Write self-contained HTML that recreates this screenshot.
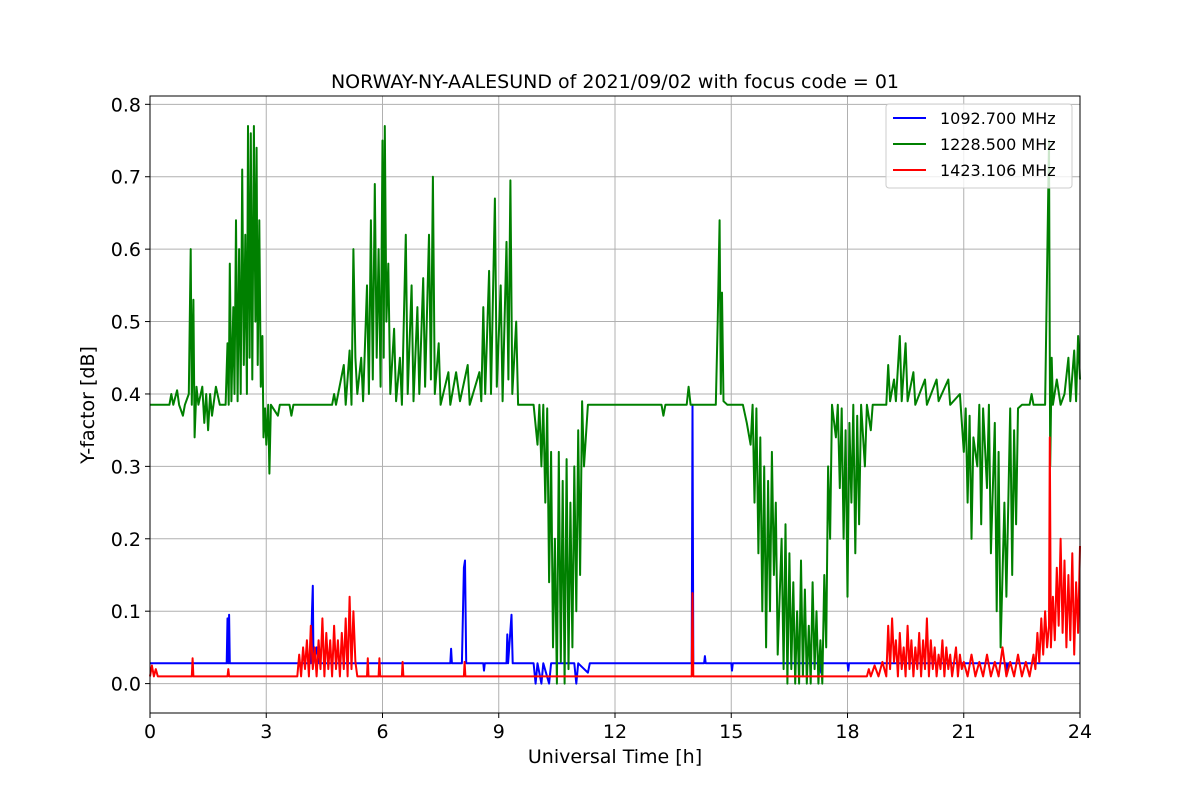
<!DOCTYPE html>
<html><head><meta charset="utf-8"><style>
body{margin:0;background:#fff;}
svg{display:block;font-family:"DejaVu Sans","Liberation Sans",sans-serif;}
</style></head><body>
<svg id="chart" width="1200" height="800" viewBox="0 0 1200 800"></svg>
<script>
const xTicks=[0,3,6,9,12,15,18,21,24];
const yTicks=[0.0,0.1,0.2,0.3,0.4,0.5,0.6,0.7,0.8];
const seriesNames=["1092.700 MHz","1228.500 MHz","1423.106 MHz"];
const blueT=[0,1.98,2.0,2.02,2.04,2.06,4.15,4.18,4.2,4.22,4.3,4.35,7.75,7.77,7.79,8.05,8.1,8.13,8.16,8.6,8.62,8.64,9.2,9.22,9.24,9.33,9.36,9.9,9.95,10.0,10.1,10.15,10.3,10.35,10.95,11.0,11.05,11.3,11.35,13.98,14.0,14.02,14.3,14.32,14.34,15.0,15.02,15.04,17.3,17.32,17.34,18.0,18.02,18.04,22.1,22.12,22.14,24];
const blueV=[0.028,0.028,0.09,0.028,0.095,0.028,0.028,0.1,0.135,0.028,0.05,0.028,0.028,0.048,0.028,0.028,0.16,0.17,0.028,0.028,0.018,0.028,0.028,0.068,0.028,0.095,0.028,0.028,0.0,0.028,0.0,0.028,0.0,0.028,0.028,0.0,0.028,0.015,0.028,0.028,0.385,0.028,0.028,0.038,0.028,0.028,0.018,0.028,0.028,0.015,0.028,0.028,0.018,0.028,0.028,0.018,0.028,0.028];
const greenT=[0,0.5,0.55,0.6,0.7,0.75,0.85,0.9,1.0,1.05,1.08,1.12,1.15,1.2,1.25,1.35,1.4,1.45,1.5,1.55,1.6,1.7,1.8,1.95,2.0,2.03,2.06,2.1,2.15,2.18,2.22,2.26,2.3,2.34,2.38,2.42,2.46,2.5,2.53,2.57,2.6,2.64,2.68,2.72,2.75,2.78,2.82,2.86,2.9,2.93,2.97,3.0,3.05,3.08,3.12,3.3,3.35,3.6,3.65,3.7,4.7,4.75,4.8,5.0,5.05,5.15,5.2,5.25,5.3,5.35,5.45,5.5,5.6,5.65,5.7,5.75,5.8,5.85,5.9,5.95,6.0,6.03,6.06,6.1,6.15,6.2,6.3,6.35,6.45,6.5,6.6,6.65,6.75,6.8,6.9,6.95,7.05,7.1,7.2,7.25,7.3,7.35,7.45,7.5,7.7,7.75,7.9,8.0,8.2,8.25,8.5,8.55,8.6,8.65,8.75,8.8,8.9,8.95,9.05,9.1,9.2,9.25,9.3,9.35,9.45,9.5,9.9,10.0,10.05,10.1,10.15,10.2,10.25,10.3,10.35,10.4,10.45,10.5,10.55,10.6,10.65,10.7,10.75,10.8,10.85,10.9,10.95,11.0,11.05,11.1,11.15,11.2,11.3,13.2,13.25,13.3,13.85,13.9,13.95,14.6,14.65,14.7,14.73,14.76,14.8,14.9,15.3,15.4,15.5,15.55,15.6,15.65,15.7,15.75,15.8,15.85,15.9,15.95,16.0,16.05,16.1,16.15,16.2,16.3,16.35,16.4,16.45,16.5,16.55,16.6,16.65,16.7,16.75,16.8,16.85,16.9,16.95,17.0,17.05,17.1,17.15,17.2,17.25,17.3,17.35,17.4,17.45,17.5,17.55,17.6,17.7,17.75,17.8,17.85,17.9,17.95,18.0,18.05,18.1,18.15,18.2,18.25,18.3,18.35,18.45,18.5,18.6,18.65,19.0,19.05,19.1,19.2,19.25,19.35,19.4,19.5,19.55,19.7,19.75,20.0,20.05,20.3,20.35,20.6,20.65,20.9,21.0,21.05,21.1,21.15,21.2,21.25,21.35,21.4,21.45,21.5,21.6,21.65,21.7,21.8,21.85,21.9,21.95,22.05,22.1,22.2,22.25,22.3,22.35,22.4,22.5,22.7,22.75,22.8,23.1,23.2,23.23,23.27,23.3,23.4,23.5,23.6,23.7,23.75,23.85,23.9,23.95,24];
const greenV=[0.385,0.385,0.40,0.385,0.405,0.385,0.37,0.385,0.40,0.6,0.385,0.53,0.34,0.41,0.385,0.41,0.36,0.40,0.35,0.40,0.37,0.41,0.385,0.385,0.47,0.385,0.58,0.39,0.52,0.4,0.64,0.39,0.6,0.4,0.71,0.44,0.62,0.40,0.77,0.45,0.76,0.42,0.77,0.5,0.74,0.44,0.64,0.41,0.48,0.34,0.38,0.33,0.385,0.29,0.385,0.37,0.385,0.385,0.37,0.385,0.385,0.40,0.385,0.44,0.385,0.46,0.385,0.6,0.45,0.40,0.45,0.39,0.55,0.4,0.64,0.42,0.69,0.45,0.60,0.41,0.75,0.45,0.77,0.5,0.58,0.40,0.49,0.39,0.45,0.385,0.62,0.40,0.55,0.39,0.52,0.40,0.56,0.41,0.62,0.42,0.70,0.40,0.47,0.385,0.43,0.385,0.43,0.39,0.44,0.385,0.43,0.39,0.52,0.4,0.57,0.40,0.67,0.41,0.55,0.39,0.61,0.42,0.695,0.40,0.50,0.385,0.385,0.33,0.385,0.30,0.385,0.25,0.38,0.14,0.32,0.05,0.20,0.0,0.32,0.03,0.28,0.0,0.31,0.02,0.25,0.05,0.30,0.10,0.35,0.15,0.39,0.30,0.385,0.385,0.37,0.385,0.385,0.41,0.385,0.385,0.50,0.64,0.40,0.54,0.39,0.385,0.385,0.36,0.33,0.385,0.25,0.38,0.18,0.34,0.10,0.30,0.05,0.28,0.10,0.32,0.15,0.25,0.04,0.20,0.02,0.22,0.0,0.18,0.02,0.14,0.0,0.10,0.0,0.17,0.01,0.13,0.0,0.08,0.0,0.14,0.02,0.10,0.0,0.06,0.0,0.15,0.05,0.30,0.20,0.385,0.34,0.385,0.27,0.38,0.20,0.35,0.12,0.36,0.25,0.385,0.18,0.37,0.22,0.385,0.30,0.385,0.35,0.385,0.385,0.44,0.39,0.42,0.39,0.48,0.39,0.47,0.39,0.43,0.385,0.42,0.385,0.42,0.39,0.42,0.385,0.40,0.32,0.38,0.25,0.37,0.20,0.34,0.30,0.385,0.22,0.38,0.27,0.385,0.18,0.36,0.10,0.32,0.05,0.25,0.12,0.38,0.15,0.35,0.22,0.38,0.385,0.385,0.40,0.385,0.385,0.75,0.30,0.45,0.385,0.42,0.385,0.40,0.45,0.39,0.46,0.39,0.48,0.42];
const redT=[0,0.05,0.1,0.15,0.2,1.08,1.1,1.12,2.0,2.02,2.04,3.8,3.85,3.9,3.95,4.0,4.05,4.1,4.15,4.2,4.25,4.3,4.35,4.4,4.45,4.5,4.55,4.6,4.65,4.7,4.75,4.8,4.85,4.9,4.95,5.0,5.05,5.1,5.15,5.2,5.25,5.3,5.35,5.6,5.62,5.64,5.9,5.92,5.94,6.5,6.52,6.54,8.1,8.12,8.14,13.98,14.0,14.02,18.5,18.55,18.6,18.7,18.8,18.9,19.0,19.05,19.1,19.15,19.2,19.25,19.3,19.35,19.4,19.45,19.5,19.55,19.6,19.65,19.7,19.75,19.8,19.85,19.9,19.95,20.0,20.05,20.1,20.15,20.2,20.25,20.3,20.35,20.4,20.45,20.5,20.55,20.6,20.65,20.7,20.75,20.8,20.85,20.9,20.95,21.0,21.1,21.2,21.3,21.4,21.5,21.6,21.7,21.8,21.9,22.0,22.1,22.2,22.3,22.4,22.5,22.6,22.7,22.8,22.85,22.9,22.95,23.0,23.05,23.1,23.15,23.2,23.22,23.25,23.3,23.35,23.4,23.45,23.5,23.55,23.6,23.65,23.7,23.75,23.8,23.85,23.9,23.95,24];
const redV=[0.01,0.025,0.01,0.02,0.01,0.01,0.035,0.01,0.01,0.02,0.01,0.01,0.04,0.01,0.05,0.02,0.06,0.01,0.08,0.02,0.05,0.01,0.06,0.02,0.09,0.01,0.07,0.02,0.06,0.01,0.08,0.02,0.06,0.01,0.07,0.02,0.09,0.01,0.12,0.02,0.10,0.03,0.01,0.01,0.035,0.01,0.01,0.035,0.01,0.01,0.03,0.01,0.01,0.03,0.01,0.01,0.125,0.01,0.01,0.02,0.01,0.025,0.01,0.03,0.01,0.08,0.02,0.09,0.03,0.06,0.01,0.07,0.02,0.05,0.01,0.08,0.02,0.06,0.01,0.05,0.02,0.07,0.01,0.06,0.02,0.09,0.01,0.06,0.02,0.05,0.01,0.04,0.02,0.06,0.01,0.05,0.02,0.04,0.01,0.03,0.05,0.01,0.04,0.02,0.03,0.01,0.04,0.01,0.03,0.01,0.04,0.01,0.03,0.01,0.05,0.01,0.03,0.01,0.04,0.01,0.03,0.01,0.04,0.02,0.07,0.03,0.09,0.04,0.10,0.05,0.08,0.34,0.05,0.12,0.06,0.16,0.08,0.20,0.07,0.17,0.05,0.15,0.06,0.18,0.04,0.14,0.07,0.19,0.05,0.12];

const svg=document.getElementById('chart');
const NS='http://www.w3.org/2000/svg';
const L=150,R=1080,T=96,B=713;
const yMin=-0.0406,yMax=0.8115;
const xs=t=>L+(t/24)*(R-L);
const ys=v=>B-(v-yMin)/(yMax-yMin)*(B-T);
function mk(tag,attrs,parent){const e=document.createElementNS(NS,tag);for(const k in attrs)e.setAttribute(k,attrs[k]);(parent||svg).appendChild(e);return e;}

const title=mk('text',{x:615,y:88,'text-anchor':'middle','font-size':19});
title.textContent='NORWAY-NY-AALESUND of 2021/09/02 with focus code = 01';



const grid=mk('g',{stroke:'#b0b0b0','stroke-width':1});


xTicks.forEach(t=>{
  const x=xs(t);
  const gl=mk('line',{x1:x,x2:x,y1:T,y2:B},grid);
  
  
  const tk=mk('line',{x1:x,x2:x,y1:B,y2:B+5,stroke:'#000'});
  
  
  const lb=mk('text',{x:x,y:B+25,'text-anchor':'middle','font-size':19});
  lb.textContent=t;
  
  
});
yTicks.forEach(v=>{
  const y=ys(v);
  const gl=mk('line',{x1:L,x2:R,y1:y,y2:y},grid);
  
  
  const tk=mk('line',{x1:L-5,x2:L,y1:y,y2:y,stroke:'#000'});
  
  
  const lb=mk('text',{x:L-9,y:y+7,'text-anchor':'end','font-size':19});
  lb.textContent=v.toFixed(1);
  
  
});

function series(T_,V_,color,name){
  const d=T_.map((t,i)=>(i?'L':'M')+xs(t).toFixed(1)+','+ys(V_[i]).toFixed(1)).join('');
  const p=mk('path',{d:d,fill:'none',stroke:color,'stroke-width':2,'stroke-linejoin':'round'});
  
  
}
series(blueT,blueV,'#0000ff','series-1092-mhz');
series(greenT,greenV,'#008000','series-1228-mhz');
series(redT,redV,'#ff0000','series-1423-mhz');

const frame=mk('rect',{x:L,y:T,width:R-L,height:B-T,fill:'none',stroke:'#000','stroke-width':1});



const xt=mk('text',{x:615,y:763,'text-anchor':'middle','font-size':19});
xt.textContent='Universal Time [h]';


const yt=mk('text',{x:0,y:0,'text-anchor':'middle','font-size':19,transform:'translate(94,405) rotate(-90)'});
yt.textContent='Y-factor [dB]';



const lg=mk('g',{});


mk('rect',{x:886,y:104,width:186,height:84,rx:3,fill:'#fff','fill-opacity':0.8,stroke:'#ccc'},lg);
const colors=['#0000ff','#008000','#ff0000'];
seriesNames.forEach((n,i)=>{
  const y=118+i*26;
  const ln=mk('line',{x1:893,x2:926,y1:y,y2:y,stroke:colors[i],'stroke-width':2},lg);
  
  
  const tx=mk('text',{x:940,y:y+6,'font-size':16},lg);
  tx.textContent=n;
  
  
});
</script>
</body></html>
